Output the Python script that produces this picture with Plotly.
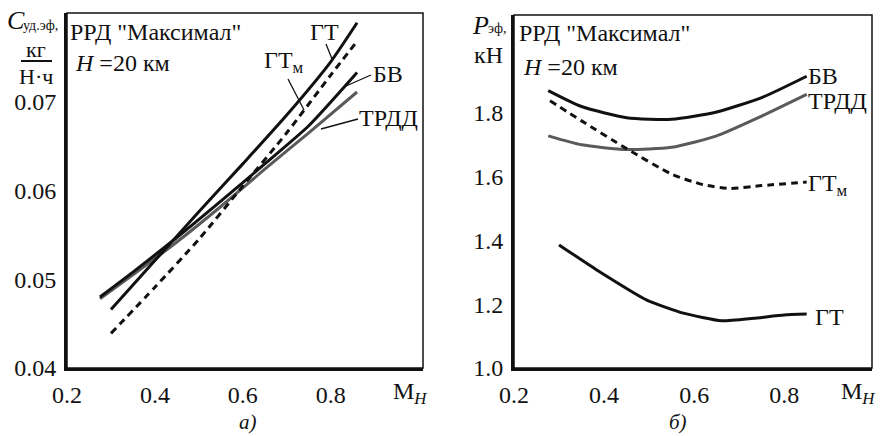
import plotly.graph_objects as go

# ---------- data: panel a) specific fuel consumption ----------
gt_x = [0.30, 0.40, 0.50, 0.60, 0.70, 0.80, 0.86]
gt_y = [0.0466, 0.0521, 0.0576, 0.0630, 0.0685, 0.0745, 0.0789]
gtm_x = [0.30, 0.40, 0.50, 0.60, 0.70, 0.80, 0.855]
gtm_y = [0.0439, 0.0491, 0.0545, 0.0605, 0.0665, 0.0730, 0.0765]
bv_x = [0.275, 0.35, 0.45, 0.55, 0.65, 0.75, 0.86]
bv_y = [0.0480, 0.0508, 0.0547, 0.0588, 0.0630, 0.0673, 0.0733]
trdd_x = [0.275, 0.35, 0.45, 0.55, 0.65, 0.75, 0.86]
trdd_y = [0.0478, 0.0505, 0.0542, 0.0582, 0.0624, 0.0665, 0.0711]

# ---------- data: panel б) effective thrust ----------
bv2_x = [0.276, 0.35, 0.45, 0.55, 0.65, 0.75, 0.85]
bv2_y = [1.870, 1.820, 1.785, 1.780, 1.803, 1.848, 1.915]
trdd2_x = [0.276, 0.35, 0.45, 0.55, 0.65, 0.75, 0.85]
trdd2_y = [1.728, 1.700, 1.685, 1.692, 1.728, 1.790, 1.858]
gtm2_x = [0.28, 0.35, 0.45, 0.55, 0.62, 0.68, 0.75, 0.85]
gtm2_y = [1.838, 1.775, 1.688, 1.608, 1.575, 1.563, 1.572, 1.583]
gt2_x = [0.30, 0.39, 0.495, 0.576, 0.661, 0.732, 0.80, 0.85]
gt2_y = [1.386, 1.302, 1.213, 1.172, 1.148, 1.156, 1.166, 1.169]

xticks = [0.2, 0.4, 0.6, 0.8]
xtick_text = ["0.2", "0.4", "0.6", "0.8"]
yticks_a = [0.04, 0.05, 0.06, 0.07]
ytick_text_a = ["0.04", "0.05", "0.06", "0.07"]
yticks_b = [1.0, 1.2, 1.4, 1.6, 1.8]
ytick_text_b = ["1.0", "1.2", "1.4", "1.6", "1.8"]

FONT = "Liberation Serif, Times New Roman, DejaVu Serif, serif"
W, H = 880, 436
BLACK = "#111111"
GREY = "#5a5a5a"

fig = go.Figure()

def add(x, y, xa, ya, color, dash="solid", smooth=0.6):
    fig.add_trace(go.Scatter(x=x, y=y, xaxis=xa, yaxis=ya, mode="lines",
                             line=dict(color=color, width=3, dash=dash,
                                       shape="spline", smoothing=smooth),
                             showlegend=False, hoverinfo="skip"))

add(trdd_x, trdd_y, "x", "y", GREY)
add(bv_x, bv_y, "x", "y", BLACK)
add(gtm_x, gtm_y, "x", "y", BLACK, dash="7px,5px")
add(gt_x, gt_y, "x", "y", BLACK)

add(bv2_x, bv2_y, "x2", "y2", BLACK)
add(trdd2_x, trdd2_y, "x2", "y2", GREY)
add(gtm2_x, gtm2_y, "x2", "y2", BLACK, dash="7px,5px")
add(gt2_x, gt2_y, "x2", "y2", BLACK, smooth=0.5)

def px(x):
    return x / W

def py(y):
    return 1 - y / H

axis_common = dict(showgrid=False, zeroline=False, showline=True, linewidth=3,
                   linecolor=BLACK, ticks="outside", ticklen=3, tickcolor="white",
                   automargin=False,
                   tickfont=dict(family=FONT, size=24, color=BLACK))

fig.update_layout(
    width=W, height=H, margin=dict(l=0, r=0, t=0, b=0, pad=0),
    paper_bgcolor="white", plot_bgcolor="white",
    font=dict(family=FONT, color=BLACK),
    xaxis=dict(domain=[px(67), px(423)], range=[0.2, 1.01], anchor="y",
               tickvals=xticks, ticktext=xtick_text, **axis_common),
    yaxis=dict(domain=[py(368), py(13)], range=[0.04, 0.08], anchor="x",
               tickvals=yticks_a, ticktext=ytick_text_a, **axis_common),
    xaxis2=dict(domain=[px(514), px(872)], range=[0.2, 0.995], anchor="y2",
                tickvals=xticks, ticktext=xtick_text, **axis_common),
    yaxis2=dict(domain=[py(368), py(15)], range=[1.0, 2.107], anchor="x2",
                tickvals=yticks_b, ticktext=ytick_text_b, **axis_common),
)

# thin frame on top / right
for xr, yr in (("x domain", "y domain"), ("x2 domain", "y2 domain")):
    fig.add_shape(type="rect", xref=xr, yref=yr, x0=0, x1=1, y0=0, y1=1,
                  line=dict(color=BLACK, width=1.5))

def txt(x, y, s, size=24, xanchor="center", italic=False):
    if italic:
        s = "<i>" + s + "</i>"
    fig.add_annotation(x=px(x), y=py(y), xref="paper", yref="paper", text=s,
                       showarrow=False, xanchor=xanchor, yanchor="middle",
                       borderpad=0, font=dict(family=FONT, size=size, color=BLACK))

def seg(x0, y0, x1, y1, w=1.3):
    fig.add_shape(type="line", xref="paper", yref="paper",
                  x0=px(x0), y0=py(y0), x1=px(x1), y1=py(y1),
                  line=dict(color=BLACK, width=w))

# ----- panel a) texts -----
txt(6, 21, "<i>C</i>", size=26, xanchor="left")
txt(22, 25, "уд.эф,", size=14, xanchor="left")
txt(36, 50, "кг", size=22)
seg(21, 61, 52, 61, w=2)
txt(36, 76, "Н·ч", size=22)
txt(69, 32, "РРД \"Максимал\"", xanchor="left")
txt(74, 63, "<i>H</i> =20 км", xanchor="left")
txt(410, 393, "М<sub><i>H</i></sub>", size=24)
txt(248, 422, "а)", size=21, italic=True)

txt(324, 32, "ГТ", size=24)
seg(326, 44, 332, 59)
txt(284, 62, "ГТ<sub>м</sub>", size=24)
seg(288, 79, 304, 110)
txt(388, 74, "БВ", size=24)
seg(371, 75, 346, 86)
txt(388, 118, "ТРДД", size=24)
seg(358, 119, 321, 129)

# ----- panel б) texts -----
txt(471, 26, "<i>P</i>", size=26, xanchor="left")
txt(487, 29, "эф,", size=14, xanchor="left")
txt(488, 55, "кН", size=24)
txt(518, 33, "РРД \"Максимал\"", xanchor="left")
txt(522, 67, "<i>H</i> =20 км", xanchor="left")
txt(858, 393, "М<sub><i>H</i></sub>", size=24)
txt(678, 422, "б)", size=21, italic=True)

txt(807, 76, "БВ", xanchor="left")
txt(807, 101, "ТРДД", xanchor="left")
txt(807, 185, "ГТ<sub>м</sub>", xanchor="left")
txt(814, 317, "ГТ", xanchor="left")

fig.write_html(
    "out.html",
    config={"displayModeBar": False},
    post_script="document.body.style.margin='0px';document.body.style.overflow='hidden';",
)
